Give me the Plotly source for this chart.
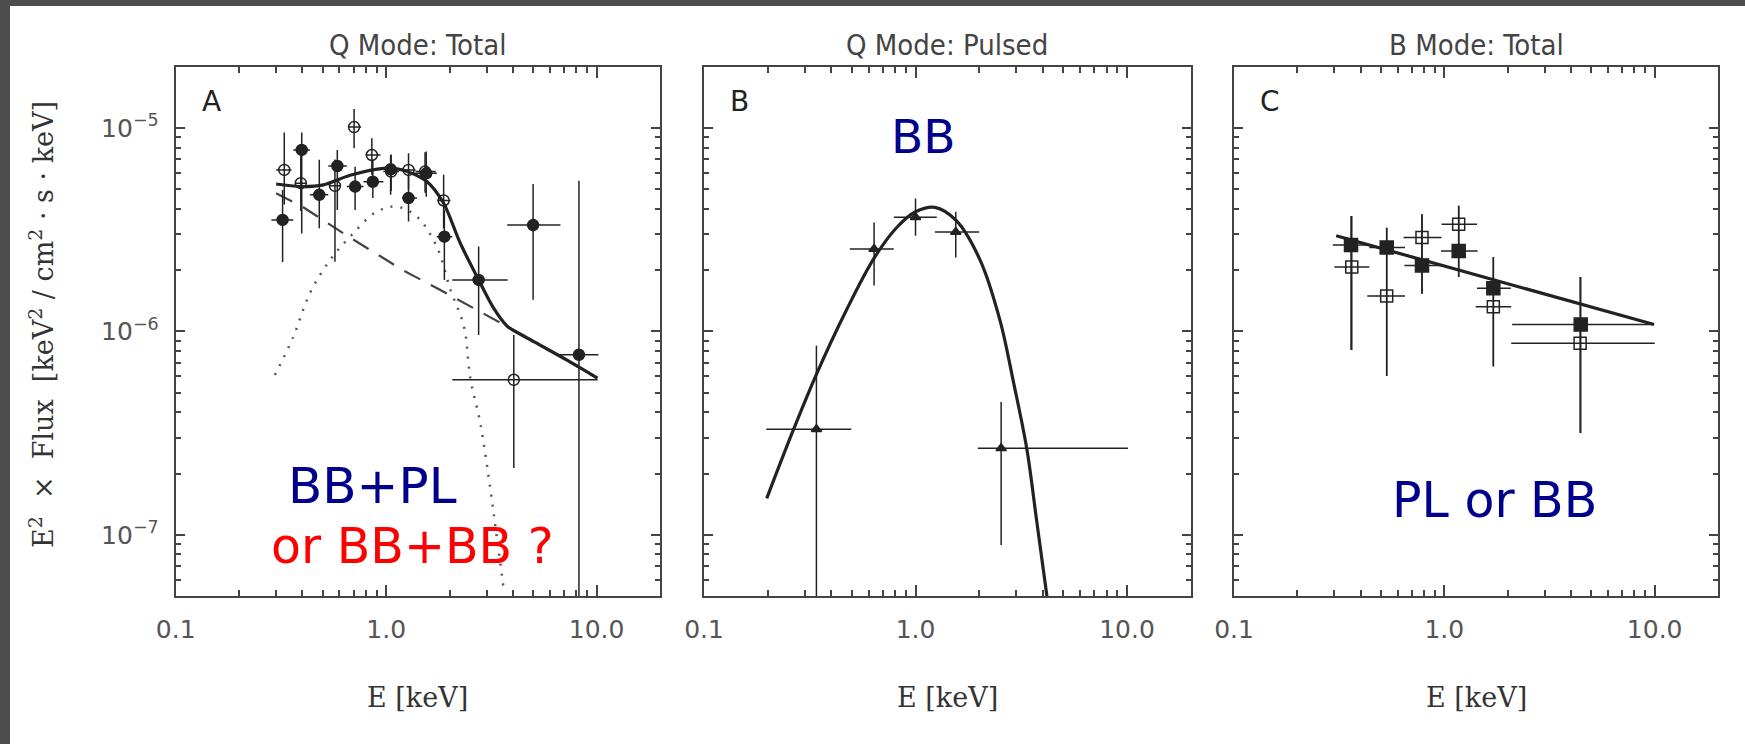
import plotly.graph_objects as go
import numpy as np

W, H = 1745, 744

# ---------------- Panel A (Q mode total) ----------------
a_fill_E = [0.322, 0.397, 0.481, 0.586, 0.712, 0.864, 1.05, 1.277, 1.55, 1.89, 2.75, 4.99, 8.24]
a_fill_F = [3.53e-6, 7.8e-6, 4.69e-6, 6.5e-6, 5.15e-6, 5.44e-6, 6.26e-6, 4.52e-6, 5.98e-6, 2.92e-6, 1.79e-6, 3.33e-6, 7.67e-7]
a_fill_Fhi = [4.96e-6, 9.5e-6, 6.97e-6, 7.8e-6, 6.45e-6, 6.97e-6, 7.36e-6, 5.88e-6, 7.65e-6, 3.95e-6, 2.61e-6, 5.3e-6, 5.5e-6]
a_fill_Flo = [2.19e-6, 3.03e-6, 3.21e-6, 3.95e-6, 3.95e-6, 4.52e-6, 4.69e-6, 3.47e-6, 4.59e-6, 1.79e-6, 9.6e-7, 1.43e-6, 5.0e-8]
a_fill_Elo = [0.285, 0.362, 0.434, 0.531, 0.650, 0.78, 0.97, 1.19, 1.35, 1.74, 2.06, 3.76, 6.6]
a_fill_Ehi = [0.362, 0.434, 0.531, 0.650, 0.78, 0.97, 1.21, 1.40, 1.74, 2.06, 3.78, 6.73, 10.2]

a_open_E = [0.328, 0.393, 0.571, 0.704, 0.855, 1.056, 1.277, 1.53, 1.875, 4.04]
a_open_F = [6.22e-6, 5.35e-6, 5.19e-6, 1.01e-5, 7.36e-6, 6.1e-6, 6.22e-6, 6.1e-6, 4.4e-6, 5.78e-7]
a_open_Fhi = [9.5e-6, 7.3e-6, 7.0e-6, 1.24e-5, 8.9e-6, 7.4e-6, 7.5e-6, 7.6e-6, 5.88e-6, 9.6e-7]
a_open_Flo = [4.2e-6, 3.9e-6, 2.2e-6, 7.95e-6, 5.88e-6, 4.9e-6, 5.0e-6, 4.8e-6, 3.2e-6, 2.13e-7]
a_open_Elo = [0.30, 0.37, 0.54, 0.66, 0.80, 0.97, 1.19, 1.38, 1.75, 2.06]
a_open_Ehi = [0.355, 0.42, 0.61, 0.76, 0.94, 1.15, 1.38, 1.72, 2.02, 10.1]

a_tot_E = [0.30, 0.39, 0.503, 0.674, 0.97, 1.21, 1.56, 1.875, 2.25, 2.75, 3.24, 3.76, 5.03, 7.2, 10.1]
a_tot_F = [5.3e-6, 5.15e-6, 5.25e-6, 5.85e-6, 6.33e-6, 6.2e-6, 5.45e-6, 4.26e-6, 2.71e-6, 1.79e-6, 1.30e-6, 1.06e-6, 8.9e-7, 7.24e-7, 5.89e-7]

a_pl_E = [0.30, 0.40, 0.67, 1.2, 1.8, 3.0, 5.0, 10.0]
a_pl_F = [4.77e-6, 4.1e-6, 2.9e-6, 2.0e-6, 1.6e-6, 1.2e-6, 9.0e-7, 5.9e-7]

a_bb_E = [0.296, 0.362, 0.434, 0.541, 0.674, 0.903, 1.124, 1.40, 1.74, 2.02, 2.34, 2.51, 2.80, 3.13, 3.37, 3.62]
a_bb_F = [6.1e-7, 9.4e-7, 1.54e-6, 2.24e-6, 2.92e-6, 3.88e-6, 4.1e-6, 3.66e-6, 2.61e-6, 1.6e-6, 1.06e-6, 5.89e-7, 3.54e-7, 1.66e-7, 9.4e-8, 5.37e-8]

# ---------------- Panel B (Q mode pulsed) ----------------
b_E = [0.34, 0.637, 1.0, 1.55, 2.54]
b_F = [3.3e-7, 2.54e-6, 3.64e-6, 3.08e-6, 2.66e-7]
b_Fhi = [8.5e-7, 3.43e-6, 4.5e-6, 3.87e-6, 4.5e-7]
b_Flo = [5.0e-8, 1.68e-6, 2.95e-6, 2.31e-6, 8.9e-8]
b_Elo = [0.197, 0.489, 0.79, 1.235, 1.97]
b_Ehi = [0.497, 0.789, 1.26, 2.0, 10.1]

b_fit_E = [0.198, 0.263, 0.34, 0.471, 0.637, 0.813, 1.0, 1.235, 1.56, 2.02, 2.51, 2.9, 3.36, 3.74, 4.18]
b_fit_F = [1.51e-7, 3.23e-7, 6.15e-7, 1.27e-6, 2.29e-6, 3.23e-6, 3.87e-6, 4.07e-6, 3.5e-6, 2.24e-6, 1.13e-6, 5.68e-7, 2.64e-7, 1.17e-7, 5.0e-8]

# ---------------- Panel C (B mode total) ----------------
c_fill_E = [0.36, 0.532, 0.783, 1.17, 1.71, 4.45]
c_fill_F = [2.66e-6, 2.58e-6, 2.11e-6, 2.48e-6, 1.63e-6, 1.08e-6]
c_fill_Fhi = [3.69e-6, 3.23e-6, 3.76e-6, 4.15e-6, 2.32e-6, 1.85e-6]
c_fill_Flo = [8.1e-7, 6.04e-7, 1.53e-6, 1.85e-6, 6.73e-7, 3.16e-7]
c_fill_Elo = [0.295, 0.44, 0.646, 0.964, 1.43, 2.1]
c_fill_Ehi = [0.44, 0.65, 0.97, 1.44, 2.07, 9.9]

c_open_E = [0.363, 0.532, 0.783, 1.17, 1.71, 4.42]
c_open_F = [2.07e-6, 1.49e-6, 2.89e-6, 3.36e-6, 1.32e-6, 8.75e-7]
c_open_Fhi = [3.69e-6, 3.23e-6, 3.76e-6, 4.15e-6, 2.32e-6, 1.85e-6]
c_open_Flo = [8.1e-7, 6.04e-7, 1.53e-6, 1.85e-6, 6.73e-7, 3.16e-7]
c_open_Elo = [0.30, 0.43, 0.64, 0.97, 1.41, 2.08]
c_open_Ehi = [0.44, 0.65, 0.97, 1.43, 2.08, 10.0]

c_fit_E = [0.306, 9.93]
c_fit_F = [2.95e-6, 1.08e-6]

# ---------------- ticks / labels ----------------
x_major = [0.1, 1.0, 10.0]
x_major_text = ["0.1", "1.0", "10.0"]
x_minor = [0.2, 0.3, 0.4, 0.5, 0.6, 0.7, 0.8, 0.9, 2, 3, 4, 5, 6, 7, 8, 9]
y_major = [1e-7, 1e-6, 1e-5]
y_major_text = ["10<sup>\u22127</sup>", "10<sup>\u22126</sup>", "10<sup>\u22125</sup>"]
y_minor = [6e-8, 7e-8, 8e-8, 9e-8] + [k * 1e-7 for k in range(2, 10)] + [k * 1e-6 for k in range(2, 10)]

panel_titles = ["Q Mode: Total", "Q Mode: Pulsed", "B Mode: Total"]
panel_letters = ["A", "B", "C"]

X_RANGE = [-1, np.log10(20)]
Y_RANGE = [np.log10(5e-8), np.log10(2e-5)]

# panel frames in pixels
frames_x = [(175.7, 660.0), (704.0, 1190.7), (1234.0, 1718.0)]
frame_top, frame_bot = 66.7, 596.0


def fx(px):
    return px / W


def fy(py):
    return 1 - py / H


def err(vals, hi, lo):
    plus = [h - v for v, h in zip(vals, hi)]
    minus = [v - l for v, l in zip(vals, lo)]
    return plus, minus


INK = "#222222"
fig = go.Figure()


def data_trace(E, F, Elo, Ehi, Flo, Fhi, symbol, size, ax, lw=1.5):
    yp, ym = err(F, Fhi, Flo)
    xp, xm = err(E, Ehi, Elo)
    return go.Scatter(
        x=E, y=F, mode="markers", xaxis=ax[0], yaxis=ax[1],
        marker=dict(symbol=symbol, size=size, color=INK, line=dict(color=INK, width=lw)),
        error_y=dict(type="data", array=yp, arrayminus=ym, color=INK, thickness=1.5, width=0),
        error_x=dict(type="data", array=xp, arrayminus=xm, color=INK, thickness=1.5, width=0),
        showlegend=False, hoverinfo="skip")


# Panel A curves
fig.add_trace(go.Scatter(x=a_bb_E, y=a_bb_F, mode="lines", xaxis="x", yaxis="y",
                         line=dict(color="#555555", width=2.5, dash="2px,8px", shape="spline"),
                         showlegend=False, hoverinfo="skip"))
fig.add_trace(go.Scatter(x=a_pl_E, y=a_pl_F, mode="lines", xaxis="x", yaxis="y",
                         line=dict(color="#444444", width=2.2, dash="18px,12px"),
                         showlegend=False, hoverinfo="skip"))
fig.add_trace(go.Scatter(x=a_tot_E, y=a_tot_F, mode="lines", xaxis="x", yaxis="y",
                         line=dict(color=INK, width=3.2, shape="spline", smoothing=0.8),
                         showlegend=False, hoverinfo="skip"))
fig.add_trace(data_trace(a_open_E, a_open_F, a_open_Elo, a_open_Ehi, a_open_Flo, a_open_Fhi,
                         "circle-open", 11, ("x", "y")))
fig.add_trace(data_trace(a_fill_E, a_fill_F, a_fill_Elo, a_fill_Ehi, a_fill_Flo, a_fill_Fhi,
                         "circle", 11, ("x", "y")))

# Panel B
fig.add_trace(go.Scatter(x=b_fit_E, y=b_fit_F, mode="lines", xaxis="x2", yaxis="y2",
                         line=dict(color=INK, width=3.2, shape="spline"),
                         showlegend=False, hoverinfo="skip"))
fig.add_trace(data_trace(b_E, b_F, b_Elo, b_Ehi, b_Flo, b_Fhi, "triangle-up", 9, ("x2", "y2")))

# Panel C
fig.add_trace(go.Scatter(x=c_fit_E, y=c_fit_F, mode="lines", xaxis="x3", yaxis="y3",
                         line=dict(color=INK, width=3.2),
                         showlegend=False, hoverinfo="skip"))
fig.add_trace(data_trace(c_open_E, c_open_F, c_open_Elo, c_open_Ehi, c_open_Flo, c_open_Fhi,
                         "square-open", 12, ("x3", "y3")))
fig.add_trace(data_trace(c_fill_E, c_fill_F, c_fill_Elo, c_fill_Ehi, c_fill_Flo, c_fill_Fhi,
                         "square", 13, ("x3", "y3")))

AX = "#444444"
tickfont = dict(family="DejaVu Sans", size=25, color="#555555")


def xaxis(i):
    x0, x1 = frames_x[i]
    return dict(type="log", range=X_RANGE, domain=[fx(x0), fx(x1)], anchor="y" if i == 0 else f"y{i+1}",
                automargin=False,
                showgrid=False, zeroline=False, showline=True, linecolor=AX, linewidth=2,
                mirror="ticks", ticks="inside", ticklen=11, tickwidth=1.5, tickcolor=AX,
                tickmode="array", tickvals=x_major, ticktext=x_major_text, tickfont=tickfont,
                ticklabelstandoff=10,
                minor=dict(tickmode="array", tickvals=x_minor, ticks="inside", ticklen=6,
                           tickwidth=1.5, tickcolor=AX, showgrid=False))


def yaxis(i):
    return dict(type="log", range=Y_RANGE, domain=[fy(frame_bot), fy(frame_top)],
                anchor="x" if i == 0 else f"x{i+1}", automargin=False,
                showgrid=False, zeroline=False, showline=True, linecolor=AX, linewidth=2,
                mirror="ticks", ticks="inside", ticklen=9, tickwidth=1.5, tickcolor=AX,
                tickmode="array", tickvals=y_major, ticktext=y_major_text, tickfont=tickfont,
                showticklabels=(i == 0), ticklabelstandoff=10,
                minor=dict(tickmode="array", tickvals=y_minor, ticks="inside", ticklen=5,
                           tickwidth=1.5, tickcolor=AX, showgrid=False))


annotations = []
for i in range(3):
    x0, x1 = frames_x[i]
    cx = (x0 + x1) / 2
    annotations.append(dict(text=panel_titles[i], x=fx(cx), y=fy(45), xref="paper", yref="paper",
                            showarrow=False, xanchor="center", yanchor="middle",
                            font=dict(family="Liberation Sans Narrow, DejaVu Sans Condensed, Arial Narrow, sans-serif",
                                      size=29, color="#444444")))
    annotations.append(dict(text=panel_letters[i], x=fx(x0 + 24), y=fy(101), xref="paper", yref="paper",
                            showarrow=False, xanchor="left", yanchor="middle",
                            font=dict(family="DejaVu Sans", size=28, color="#222222")))
    annotations.append(dict(text="E [keV]", x=fx(cx), y=fy(697), xref="paper", yref="paper",
                            showarrow=False, xanchor="center", yanchor="middle",
                            font=dict(family="DejaVu Serif", size=27, color="#333333")))

annotations.append(dict(text="E<sup>2</sup>  \u00d7  Flux  [keV<sup>2</sup> / cm<sup>2</sup> \u00b7 s \u00b7 keV]",
                        x=fx(42), y=fy(325), xref="paper", yref="paper", textangle=-90,
                        showarrow=False, xanchor="center", yanchor="middle",
                        font=dict(family="DejaVu Serif", size=27, color="#333333")))

NAVY = "#00008C"
RED = "#FF0000"
annotations.append(dict(text="BB+PL", x=fx(372), y=fy(486), xref="paper", yref="paper", showarrow=False,
                        xanchor="center", yanchor="middle", font=dict(family="DejaVu Sans", size=50, color=NAVY)))
annotations.append(dict(text="or BB+BB ?", x=fx(412), y=fy(546), xref="paper", yref="paper", showarrow=False,
                        xanchor="center", yanchor="middle", font=dict(family="DejaVu Sans", size=49, color=RED)))
annotations.append(dict(text="BB", x=fx(924), y=fy(137), xref="paper", yref="paper", showarrow=False,
                        xanchor="center", yanchor="middle", font=dict(family="DejaVu Sans", size=47, color=NAVY)))
annotations.append(dict(text="PL or BB", x=fx(1494), y=fy(501), xref="paper", yref="paper", showarrow=False,
                        xanchor="center", yanchor="middle", font=dict(family="DejaVu Sans", size=49, color=NAVY)))

shapes = [
    dict(type="rect", xref="paper", yref="paper", x0=0, x1=fx(10), y0=0, y1=1,
         fillcolor="#4d4d4d", line=dict(width=0), layer="above"),
    dict(type="rect", xref="paper", yref="paper", x0=0, x1=1, y0=fy(6), y1=1,
         fillcolor="#4d4d4d", line=dict(width=0), layer="above"),
]

fig.update_layout(
    template="none",
    width=W, height=H, margin=dict(l=0, r=0, t=0, b=0, autoexpand=False),
    paper_bgcolor="white", plot_bgcolor="white",
    xaxis=xaxis(0), xaxis2=xaxis(1), xaxis3=xaxis(2),
    yaxis=yaxis(0), yaxis2=yaxis(1), yaxis3=yaxis(2),
    annotations=annotations, shapes=shapes, showlegend=False,
)

fig.write_html("out.html")
